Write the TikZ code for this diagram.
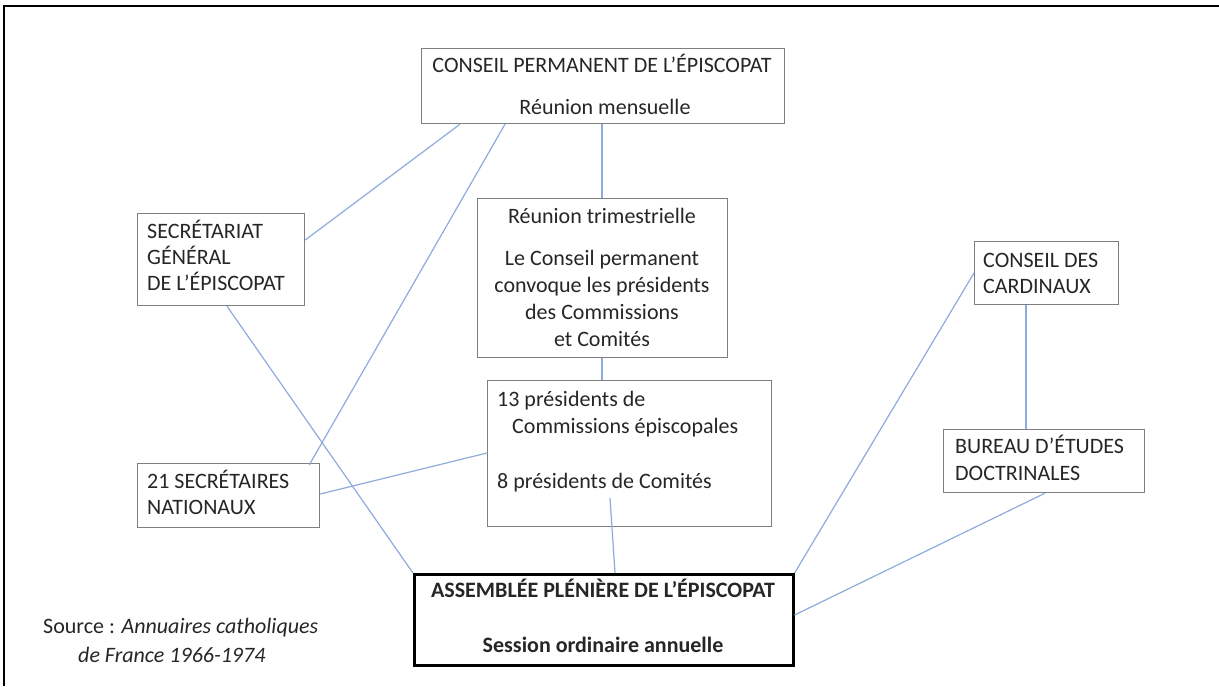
\documentclass[tikz,border=0pt]{standalone}
\usepackage{fontspec}
\setmainfont{Carlito}
\usetikzlibrary{calc}
\definecolor{conn}{HTML}{8FAADC}
\definecolor{boxline}{HTML}{7F7F7F}
\definecolor{txt}{HTML}{262626}
\begin{document}
\begin{tikzpicture}[x=1pt,y=-1pt,
  box/.style={draw=boxline, line width=1.2pt, inner sep=0pt, anchor=north west},
  bigbox/.style={draw=black, line width=2.6pt, inner sep=0pt, anchor=north west},
  tc/.style={inner sep=0pt, anchor=base, text=txt, font=\fontsize{22}{27}\selectfont},
  tl/.style={tc, anchor=base west},
  tb/.style={tc, font=\fontsize{22}{27}\selectfont\bfseries},
  conn/.style={draw=conn, line width=1.2pt}]
\useasboundingbox (0,0) rectangle (1219,686);
% frame
\coordinate (fTL) at (4,6);
\coordinate (fTR) at (1219,6);
\coordinate (fBL) at (4,686);
\draw[line width=2.6pt] (fBL) -- (fTL) -- (fTR);

% boxes
\node[box, minimum width=363pt, minimum height=75pt] (cp) at (421,48) {};
\node[box, minimum width=167pt, minimum height=92pt] (sg) at (137,213) {};
\node[box, minimum width=250pt, minimum height=159pt] (rt) at (477,198) {};
\node[box, minimum width=284pt, minimum height=146pt] (pr) at (487,380) {};
\node[box, minimum width=182pt, minimum height=64pt] (sn) at (137,463) {};
\node[box, minimum width=144pt, minimum height=63pt] (cc) at (974,241) {};
\node[box, minimum width=201pt, minimum height=63pt] (bd) at (943,429) {};
\node[bigbox, minimum width=379pt, minimum height=91pt] (as) at (413,573) {};

% texts
\node[tc] (cpa) at (602,72) {CONSEIL PERMANENT DE L’ÉPISCOPAT};
\node[tc] (cpb) at (605,114) {Réunion mensuelle};

\node[tl] (sga) at (147,238) {SECRÉTARIAT};
\node[tl] (sgb) at (147,264) {GÉNÉRAL};
\node[tl] (sgc) at (147,290) {DE L’ÉPISCOPAT};

\node[tc] (rta) at (602,223) {Réunion trimestrielle};
\node[tc] (rtb) at (602,265) {Le Conseil permanent};
\node[tc] (rtc) at (602,292) {convoque les présidents};
\node[tc] (rtd) at (602,319) {des Commissions};
\node[tc] (rte) at (602,346) {et Comités};

\node[tl] (pra) at (497,406) {13 présidents de};
\node[tl] (prb) at (512,433) {Commissions épiscopales};
\node[tl] (prc) at (497,488) {8 présidents de Comités};

\node[tl] (sna) at (147,488) {21 SECRÉTAIRES};
\node[tl] (snb) at (147,514) {NATIONAUX};

\node[tl] (cca) at (983,267) {CONSEIL DES};
\node[tl] (ccb) at (983,293) {CARDINAUX};

\node[tl] (bda) at (955,453) {BUREAU D’ÉTUDES};
\node[tl] (bdb) at (955,480) {DOCTRINALES};

\node[tb] (asa) at (603,597) {ASSEMBLÉE PLÉNIÈRE DE L’ÉPISCOPAT};
\node[tb] (asb) at (603,652) {Session ordinaire annuelle};

\node[tl] (soa) at (43,633) {Source : \textit{Annuaires catholiques}};
\node[tl] (sob) at (78,662) {\textit{de France 1966-1974}};

% connectors
\draw[conn] ($(cp.south west)+(39,0)$) -- ($(sg.north east)+(0,27)$);
\draw[conn] ($(cp.south west)+(84,0)$) -- ($(sn.north east)+(-11,2)$);
\draw[conn] ($(cp.south west)+(181,0)$) -- ($(rt.north west)+(125,0)$);
\draw[conn] ($(rt.south west)+(125,0)$) -- ($(pr.north west)+(115,0)$);
\draw[conn] ($(pr.north west)+(0,73)$) -- ($(sn.north east)+(0,31)$);
\draw[conn] ($(sg.south west)+(90,0)$) -- (as.north west);
\coordinate (prin) at (610,498);
\draw[conn] (prin) -- ($(as.north west)+(202,0)$);
\draw[conn] ($(cc.north west)+(0,32)$) -- (as.north east);
\draw[conn] ($(cc.south west)+(52,0)$) -- ($(bd.north west)+(83,0)$);
\draw[conn] ($(bd.south west)+(102,0)$) -- ($(as.north east)+(0,42)$);
\end{tikzpicture}
\end{document}
